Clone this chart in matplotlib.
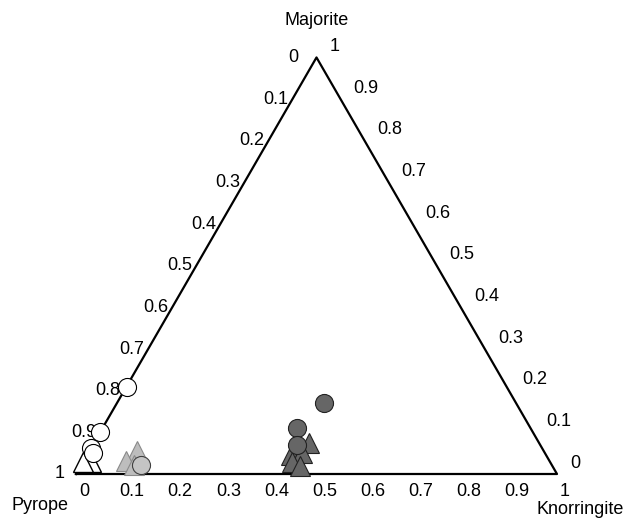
import numpy as np
import matplotlib
matplotlib.use('Agg')
import matplotlib.pyplot as plt

plt.rcParams['font.family'] = ['Liberation Sans', 'DejaVu Sans']

# data as (Knorringite, Majorite) fractions; Pyrope = 1 - K - M
white_circ_k = [0.0, 0.0, 0.0, 0.01]
white_circ_m = [0.21, 0.10, 0.062, 0.05]
white_tri_k = [0.017, 0.0]
white_tri_m = [0.028, 0.028]

light_tri_k = [0.10, 0.088, 0.11]
light_tri_m = [0.055, 0.032, 0.022]
light_circ_k = [0.125]
light_circ_m = [0.022]

dark_tri_k = [0.447, 0.425, 0.445, 0.435, 0.455]
dark_tri_m = [0.075, 0.045, 0.05, 0.03, 0.02]
dark_circ_k = [0.43, 0.405, 0.425]
dark_circ_m = [0.17, 0.11, 0.07]

ticks = [0, 0.1, 0.2, 0.3, 0.4, 0.5, 0.6, 0.7, 0.8, 0.9, 1]
tick_labels = ['0', '0.1', '0.2', '0.3', '0.4', '0.5', '0.6', '0.7', '0.8', '0.9', '1']

h = np.sqrt(3) / 2


def tern(k, m):
    k = np.asarray(k, dtype=float)
    m = np.asarray(m, dtype=float)
    return k + m / 2, m * h


fig = plt.figure(figsize=(6.32, 5.18), dpi=100)
ax = fig.add_axes([0, 0, 1, 1])
px = 1 / 481
ax.set_xlim(-76 * px, 556 * px)
ax.set_ylim(-44 * px, 474 * px)
ax.axis('off')

# triangle outline
ax.plot([0, 1, 0.5, 0], [0, 0, h, 0], color='black', lw=1.6, zorder=1)

fs = 13
# bottom: Knorringite fraction
for t, lab in zip(ticks, tick_labels):
    ax.text(t + 8 * px, -17 * px, lab, ha='center', va='center', fontsize=fs)

# left: Pyrope fraction (0 at top)
for t, lab in zip(ticks, tick_labels):
    x, y = tern(0, 1 - t)
    off = 4
    if t == 0:
        off = 18
    elif t == 1:
        off = 11
    ax.text(x - off * px, y, lab, ha='right', va='center', fontsize=fs)

# right: Majorite fraction (1 at top)
for t, lab in zip(ticks, tick_labels):
    x, y = tern(1 - t, t)
    ax.text(x + 13 * px, y + 11 * px, lab, ha='left', va='center', fontsize=fs)

ax.text(0.5, 454 * px, 'Majorite', ha='center', va='center', fontsize=fs)
ax.text(-36 * px, -32 * px, 'Pyrope', ha='center', va='center', fontsize=fs)
ax.text(504 * px, -35 * px, 'Knorringite', ha='center', va='center', fontsize=fs)

ms_c = 13
ms_t = 14
x, y = tern(white_tri_k, white_tri_m)
ax.plot(x, y, '^', ms=ms_t, mfc='white', mec='black', mew=1, ls='none', zorder=3)
x, y = tern(white_circ_k, white_circ_m)
ax.plot(x, y, 'o', ms=ms_c, mfc='white', mec='black', mew=0.8, ls='none', zorder=4)

x, y = tern(light_tri_k, light_tri_m)
ax.plot(x, y, '^', ms=ms_t, mfc='#bdbdbd', mec='#8a8a8a', mew=0.8, ls='none', zorder=3)
x, y = tern(light_circ_k, light_circ_m)
ax.plot(x, y, 'o', ms=ms_c, mfc='#c4c4c4', mec='#404040', mew=0.8, ls='none', zorder=4)

x, y = tern(dark_tri_k, dark_tri_m)
ax.plot(x, y, '^', ms=ms_t, mfc='#666666', mec='#222222', mew=0.8, ls='none', zorder=3)
x, y = tern(dark_circ_k, dark_circ_m)
ax.plot(x, y, 'o', ms=ms_c, mfc='#666666', mec='#222222', mew=0.8, ls='none', zorder=4)

fig.savefig('out.png', dpi=100)
